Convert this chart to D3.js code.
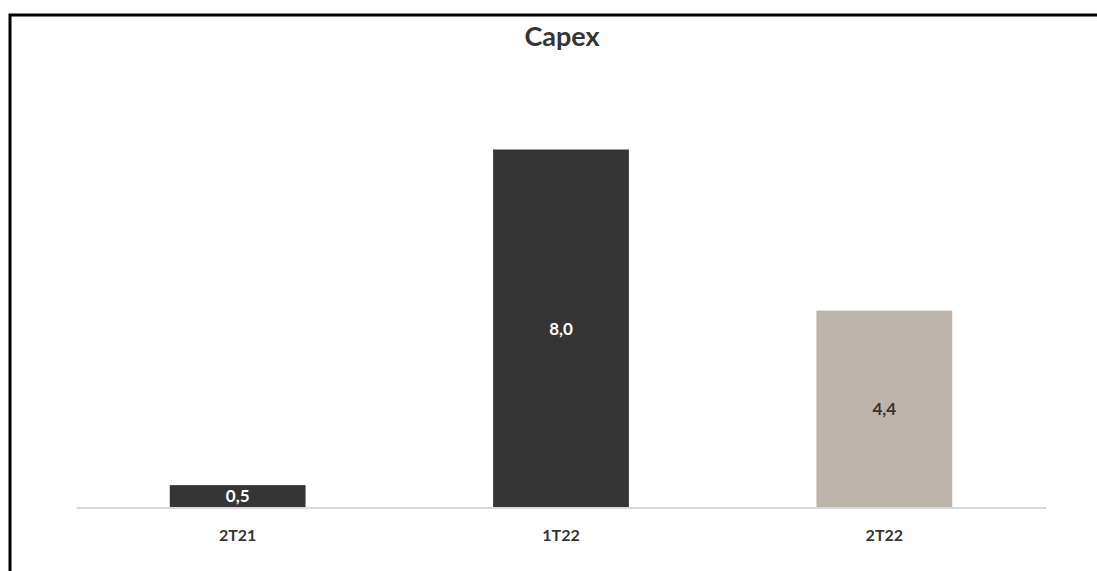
<!DOCTYPE html>
<html>
<head>
<meta charset="utf-8">
<script src="https://cdn.jsdelivr.net/npm/d3@7/dist/d3.min.js"></script>
<style>
  html, body { margin: 0; padding: 0; background: #fff; }
  svg { display: block; }
</style>
</head>
<body>
<svg id="chart" width="1097" height="571"></svg>
<script>
// Capex per quarter (R$ mi)
const categories = ["2T21", "1T22", "2T22"];
const values = [0.5, 8.0, 4.4];
const barColors = ["#353535", "#353535", "#bcb3aa"];
const labelColors = ["#ffffff", "#ffffff", "#353535"];
const title = "Capex";

const font = "Lato, 'Open Sans', sans-serif";
const svg = d3.select("#chart");
const W = 1097, H = 571;

// frame: top and left edges
svg.append("path")
  .attr("d", `M10,${H} V15 H${W}`)
  .attr("fill", "none")
  .attr("stroke", "#000")
  .attr("stroke-width", 3);

const x = d3.scaleBand()
  .domain(categories)
  .range([76, 1046])
  .paddingInner(0.58)
  .paddingOuter(0.29);

const y = d3.scaleLinear()
  .domain([0, 9])
  .range([507.5, 104.75]);

svg.append("text")
  .attr("x", 562)
  .attr("y", 46)
  .attr("text-anchor", "middle")
  .attr("font-family", font)
  .attr("font-weight", "bold")
  .attr("font-size", 27)
  .attr("fill", "#353535")
  .text(title);

const data = categories.map((c, i) => ({ c, v: values[i], fill: barColors[i], lc: labelColors[i] }));

svg.selectAll("rect.bar")
  .data(data)
  .join("rect")
  .attr("class", "bar")
  .attr("x", d => x(d.c))
  .attr("width", x.bandwidth())
  .attr("y", d => y(d.v))
  .attr("height", d => y(0) - y(d.v))
  .attr("fill", d => d.fill);

// baseline axis
const xAxis = svg.append("g")
  .attr("transform", `translate(0,${y(0)})`)
  .call(d3.axisBottom(x).tickSize(0).tickPadding(22));
xAxis.select(".domain").attr("stroke", "#d9d9d9").attr("stroke-width", 2);
xAxis.selectAll("text")
  .attr("font-family", font)
  .attr("font-weight", "bold")
  .attr("font-size", 16)
  .attr("fill", "#353535");

const fmt = v => d3.format(".1f")(v).replace(".", ",");

svg.selectAll("text.val")
  .data(data)
  .join("text")
  .attr("class", "val")
  .attr("x", d => x(d.c) + x.bandwidth() / 2)
  .attr("y", d => (y(d.v) + y(0)) / 2)
  .attr("dy", "0.36em")
  .attr("text-anchor", "middle")
  .attr("font-family", font)
  .attr("font-weight", "bold")
  .attr("font-size", 17)
  .attr("fill", d => d.lc)
  .text(d => fmt(d.v));
</script>
</body>
</html>
